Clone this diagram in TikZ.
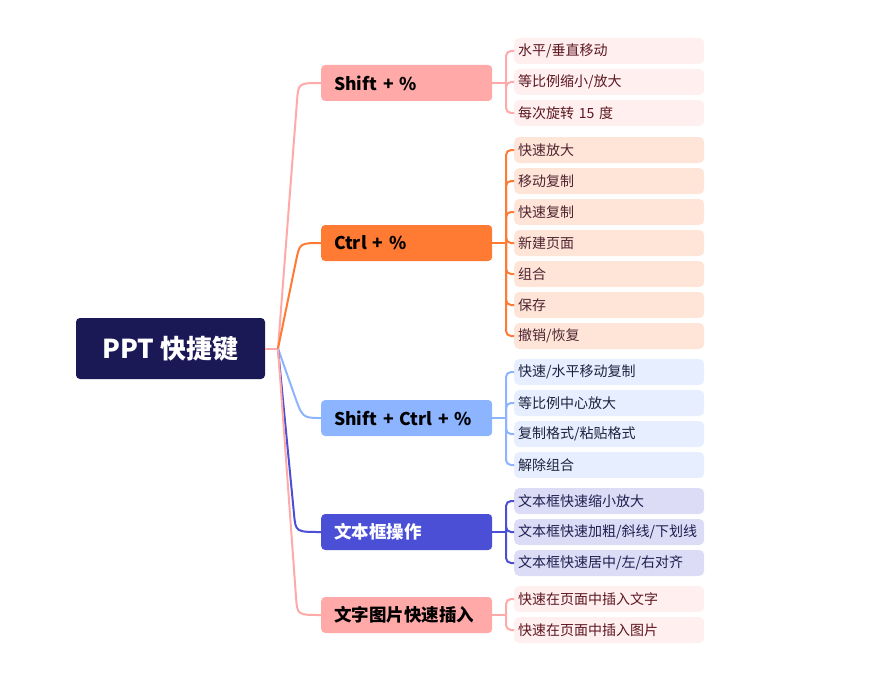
\documentclass[tikz,border=0pt]{standalone}
\usepackage{fontspec}
\setmainfont{Noto Sans CJK SC}
\usepackage{xcolor}

\definecolor{rootc}{HTML}{1B1856}
\definecolor{pinkc}{HTML}{FFAAA8}
\definecolor{pinkl}{HTML}{FFEFEE}
\definecolor{pinkt}{HTML}{5C1620}
\definecolor{orangec}{HTML}{FF7A33}
\definecolor{orangel}{HTML}{FFE4D8}
\definecolor{oranget}{HTML}{4E2430}
\definecolor{bluec}{HTML}{8DB4FF}
\definecolor{bluel}{HTML}{E6EEFF}
\definecolor{bluet}{HTML}{1E2240}
\definecolor{indigoc}{HTML}{4A4FD6}
\definecolor{indigol}{HTML}{DCDCF6}
\definecolor{indigot}{HTML}{1E1E50}

\tikzset{
  rootbox/.style={fill=rootc, text=white, rounded corners=4pt, minimum width=189pt,
    minimum height=61pt, inner sep=0pt, font=\bfseries\fontsize{26}{30}\selectfont},
  topicbox/.style={anchor=west, rounded corners=4pt, text width=145pt, inner xsep=13pt,
    inner ysep=0pt, minimum height=36pt, align=left, font=\bfseries\fontsize{17.5}{20}\selectfont},
  leafbox/.style={anchor=west, rounded corners=5pt, text width=182pt, inner xsep=4pt,
    inner ysep=0pt, minimum height=26pt, align=left, font=\fontsize{14}{16}\selectfont},
  link/.style={line width=2pt},
}

\begin{document}
\begin{tikzpicture}[x=1pt,y=-1pt]
  \useasboundingbox (0,0) rectangle (888,674);

  % Root
  \node[rootbox] (root) at (170.5,348.5) {PPT 快捷键};
  \coordinate (hub) at (278,348.5);

  % Topics
  \node[topicbox, fill=pinkc] (shift) at (321,83) {Shift + \%};
  \node[topicbox, fill=orangec] (ctrl) at (321,243) {Ctrl + \%};
  \node[topicbox, fill=bluec] (shiftctrl) at (321,418) {Shift + Ctrl + \%};
  \node[topicbox, fill=indigoc, text=white] (textbox) at (321,532) {文本框操作};
  \node[topicbox, fill=pinkc] (insert) at (321,615) {文字图片快速插入};

  % Root to topics
  \draw[link, pinkc] (root.east) -- (hub);
  \draw[link, pinkc] (hub) -- (297,101) .. controls (298.4,83) .. (shift.west);
  \draw[link, orangec] (hub) -- (296,261) .. controls (299.7,243) .. (ctrl.west);
  \draw[link, bluec] (hub) -- (294,394) .. controls (302.5,418) .. (shiftctrl.west);
  \draw[link, indigoc] (hub) -- (294,514) .. controls (295.7,532) .. (textbox.west);
  \draw[link, pinkc] (hub) -- (296,597) .. controls (297.3,615) .. (insert.west);

  % Leaves of Shift + %
  \node[leafbox, fill=pinkl, text=pinkt] (shiftA) at (514,51) {水平/垂直移动};
  \node[leafbox, fill=pinkl, text=pinkt] (shiftB) at (514,82) {等比例缩小/放大};
  \node[leafbox, fill=pinkl, text=pinkt] (shiftC) at (514,113) {每次旋转 15 度};

  % Leaves of Ctrl + %
  \node[leafbox, fill=orangel, text=oranget] (ctrlA) at (514,150) {快速放大};
  \node[leafbox, fill=orangel, text=oranget] (ctrlB) at (514,181) {移动复制};
  \node[leafbox, fill=orangel, text=oranget] (ctrlC) at (514,212) {快速复制};
  \node[leafbox, fill=orangel, text=oranget] (ctrlD) at (514,243) {新建页面};
  \node[leafbox, fill=orangel, text=oranget] (ctrlE) at (514,274) {组合};
  \node[leafbox, fill=orangel, text=oranget] (ctrlF) at (514,305) {保存};
  \node[leafbox, fill=orangel, text=oranget] (ctrlG) at (514,336) {撤销/恢复};

  % Leaves of Shift + Ctrl + %
  \node[leafbox, fill=bluel, text=bluet] (scA) at (514,372) {快速/水平移动复制};
  \node[leafbox, fill=bluel, text=bluet] (scB) at (514,403) {等比例中心放大};
  \node[leafbox, fill=bluel, text=bluet] (scC) at (514,434) {复制格式/粘贴格式};
  \node[leafbox, fill=bluel, text=bluet] (scD) at (514,465) {解除组合};

  % Leaves of 文本框操作
  \node[leafbox, fill=indigol, text=indigot] (tbA) at (514,501) {文本框快速缩小放大};
  \node[leafbox, fill=indigol, text=indigot] (tbB) at (514,532) {文本框快速加粗/斜线/下划线};
  \node[leafbox, fill=indigol, text=indigot] (tbC) at (514,563) {文本框快速居中/左/右对齐};

  % Leaves of 文字图片快速插入
  \node[leafbox, fill=pinkl, text=pinkt] (insA) at (514,599) {快速在页面中插入文字};
  \node[leafbox, fill=pinkl, text=pinkt] (insB) at (514,630) {快速在页面中插入图片};

  % Topic to leaves
  \coordinate (shiftT) at (506,83);
  \draw[link, pinkc] (shift.east) -- (shiftT);
  \draw[link, pinkc, rounded corners=5pt] (shiftT) |- (shiftA.west);
  \draw[link, pinkc, rounded corners=5pt] (shiftT) |- (shiftB.west);
  \draw[link, pinkc, rounded corners=5pt] (shiftT) |- (shiftC.west);

  \coordinate (ctrlT) at (506,243);
  \draw[link, orangec] (ctrl.east) -- (ctrlT);
  \draw[link, orangec, rounded corners=5pt] (ctrlT) |- (ctrlA.west);
  \draw[link, orangec, rounded corners=5pt] (ctrlT) |- (ctrlB.west);
  \draw[link, orangec, rounded corners=5pt] (ctrlT) |- (ctrlC.west);
  \draw[link, orangec, rounded corners=5pt] (ctrlT) |- (ctrlD.west);
  \draw[link, orangec, rounded corners=5pt] (ctrlT) |- (ctrlE.west);
  \draw[link, orangec, rounded corners=5pt] (ctrlT) |- (ctrlF.west);
  \draw[link, orangec, rounded corners=5pt] (ctrlT) |- (ctrlG.west);

  \coordinate (scT) at (506,418);
  \draw[link, bluec] (shiftctrl.east) -- (scT);
  \draw[link, bluec, rounded corners=5pt] (scT) |- (scA.west);
  \draw[link, bluec, rounded corners=5pt] (scT) |- (scB.west);
  \draw[link, bluec, rounded corners=5pt] (scT) |- (scC.west);
  \draw[link, bluec, rounded corners=5pt] (scT) |- (scD.west);

  \coordinate (tbT) at (506,532);
  \draw[link, indigoc] (textbox.east) -- (tbT);
  \draw[link, indigoc, rounded corners=5pt] (tbT) |- (tbA.west);
  \draw[link, indigoc, rounded corners=5pt] (tbT) |- (tbB.west);
  \draw[link, indigoc, rounded corners=5pt] (tbT) |- (tbC.west);

  \coordinate (insT) at (506,615);
  \draw[link, pinkc] (insert.east) -- (insT);
  \draw[link, pinkc, rounded corners=5pt] (insT) |- (insA.west);
  \draw[link, pinkc, rounded corners=5pt] (insT) |- (insB.west);
\end{tikzpicture}
\end{document}
